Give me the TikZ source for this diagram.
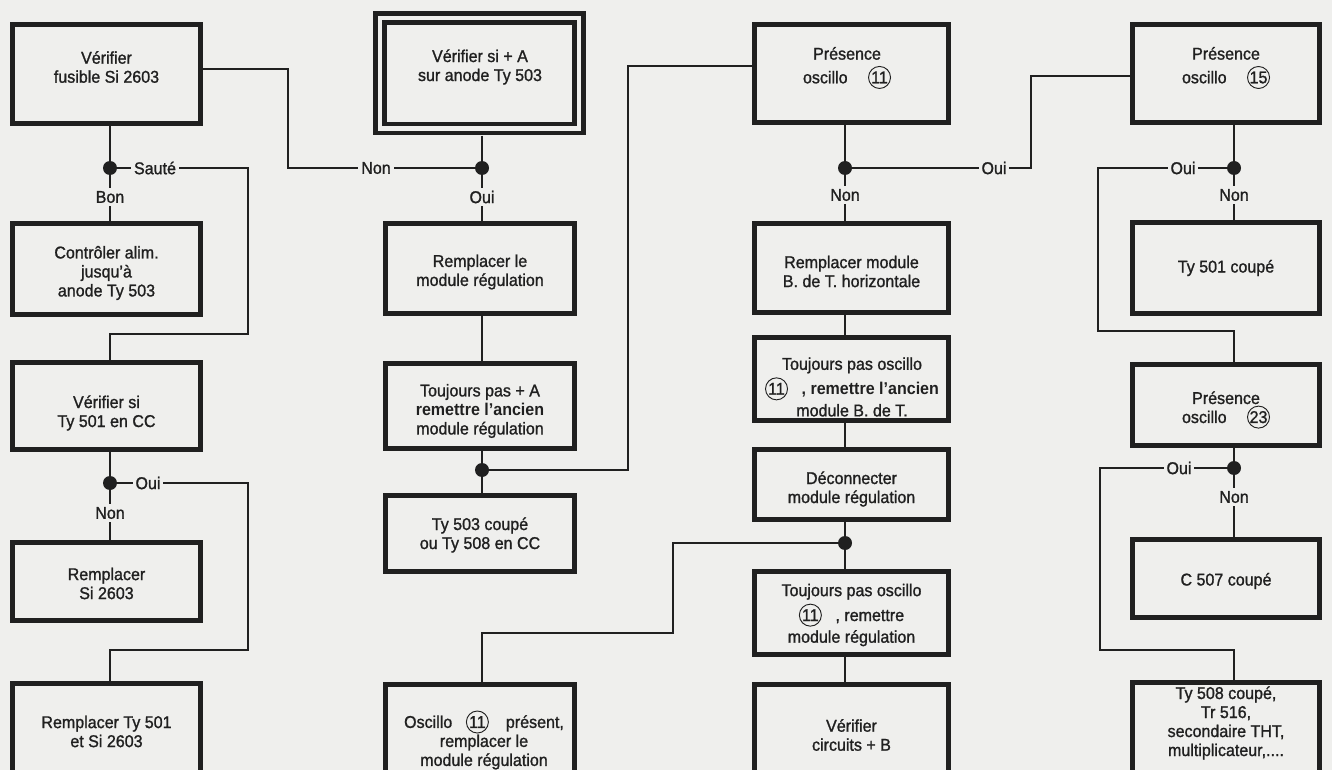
\documentclass[tikz,border=0pt]{standalone}
\usepackage{fontspec}
\setmainfont{Liberation Sans}[FakeStretch=0.94, UprightFeatures={FakeBold=1.2}]
\definecolor{bg}{RGB}{239,239,237}
\definecolor{ink}{RGB}{32,32,32}
\tikzset{
  x=0.75pt, y=-0.75pt,
  box/.style={draw=ink, line width=3.4pt, inner sep=0pt},
  dbox/.style={draw=ink, line width=3.1pt, double=bg, double distance=3.6pt, inner sep=0pt},
  txt/.style={text=ink, align=center, font=\fontsize{12.8}{14.25}\selectfont, inner sep=0pt},
  lab/.style={text=ink, fill=bg, font=\fontsize{12.8}{14.25}\selectfont, inner sep=2.2pt},
  wire/.style={draw=ink, line width=1.5pt},
  dot/.style={circle, fill=ink, inner sep=0pt, minimum size=10.5pt},
}
\newcommand\bx[5]{\node[box, minimum width={(#4-#2-4.5)*0.75pt}, minimum height={(#5-#3-4.5)*0.75pt}] (#1) at ({(#2+#4)/2},{(#3+#5)/2}) {};}
\newcommand\tx[4]{\node[txt] (#1) at (#2,#3) {#4};}
\newcommand\cnum[1]{\tikz[baseline=(cn.base)]\node[draw=ink,circle,line width=0.7pt,inner sep=0pt,minimum size=16.5pt](cn){#1};}
\begin{document}
\begin{tikzpicture}
\useasboundingbox (0,0) rectangle (1332,770);
\fill[bg] (0,0) rectangle (1332,770);
\clip (0,0) rectangle (1332,770);
% column 1
\bx{a1}{10}{22}{203}{126}
\bx{a2}{10}{221}{203}{317}
\bx{a3}{10}{360}{203}{452}
\bx{a4}{10}{540}{203}{623}
\bx{a5}{10}{681}{203}{790}
% column 2
\node[dbox, minimum width=149.25pt, minimum height=82.9pt] (b1) at (479.5,73.25) {};
\bx{b2}{383}{221}{577}{316}
\bx{b3}{383}{361}{577}{451}
\bx{b4}{383}{493}{577}{574}
\bx{b5}{383}{682}{577}{795}
% column 3
\bx{c1}{752}{22}{951}{125}
\bx{c2}{752}{221}{951}{315}
\bx{c3}{752}{335}{951}{423}
\bx{c4}{752}{447}{951}{522}
\bx{c5}{752}{569}{951}{657}
\bx{c6}{752}{682}{951}{790}
% column 4
\bx{d1}{1130}{22}{1322}{125}
\bx{d2}{1130}{220}{1322}{316}
\bx{d3}{1130}{362}{1322}{448}
\bx{d4}{1130}{537}{1322}{620}
\bx{d5}{1130}{680}{1322}{790}
% texts
\tx{ta1}{106.5}{67}{Vérifier\\fusible Si 2603}
\tx{ta2}{106.5}{273}{Contrôler alim.\\jusqu’à\\anode Ty 503}
\tx{ta3}{106.5}{413}{Vérifier si\\Ty 501 en CC}
\tx{ta4}{106.5}{583.5}{Remplacer\\Si 2603}
\tx{ta5}{106.5}{731.5}{Remplacer Ty 501\\et Si 2603}
\tx{tb1}{480}{67}{Vérifier si + A\\sur anode Ty 503}
\tx{tb2}{480}{272}{Remplacer le\\module régulation}
\tx{tb3}{480}{411}{Toujours pas + A\\\textbf{remettre l’ancien}\\module régulation}
\tx{tb4}{480}{535}{Ty 503 coupé\\ou Ty 508 en CC}
\tx{tb5}{484}{740}{Oscillo\hspace{0.8em}\cnum{11}\hspace{1em}présent,\\remplacer le\\module régulation}
\tx{tc1}{847}{68}{Présence\\[3.5pt]oscillo\hspace{1.2em}\cnum{11}}
\tx{tc2}{851.5}{271.5}{Remplacer module\\B. de T. horizontale}
\tx{tc3}{852}{387}{Toujours pas oscillo\\[2pt]\cnum{11}\hspace{0.8em}\textbf{, remettre l’ancien}\\[2pt]module B. de T.}
\tx{tc4}{851.5}{489}{Déconnecter\\module régulation}
\tx{tc5}{851.5}{615}{Toujours pas oscillo\\[2pt]\cnum{11}\hspace{0.8em}, remettre\\[2pt]module régulation}
\tx{tc6}{851.5}{735}{Vérifier\\circuits + B}
\tx{td1}{1226}{68}{Présence\\[3.5pt]oscillo\hspace{1.2em}\cnum{15}}
\tx{td2}{1226}{268}{Ty 501 coupé}
\tx{td3}{1226}{410}{Présence\\oscillo\hspace{1.2em}\cnum{23}}
\tx{td4}{1226}{581}{C 507 coupé}
\tx{td5}{1226}{723}{Ty 508 coupé,\\Tr 516,\\secondaire THT,\\multiplicateur,....}
% junction dots
\node[dot] (j1) at (110,168) {};
\node[dot] (j2) at (110,483) {};
\node[dot] (j3) at (482,168) {};
\node[dot] (j4) at (482,470) {};
\node[dot] (j5) at (845,168) {};
\node[dot] (j6) at (845,543) {};
\node[dot] (j7) at (1234,168) {};
\node[dot] (j8) at (1234,468) {};
% bend points
\coordinate (k1) at (248,334);
\coordinate (k2) at (248,650);
\coordinate (k3) at (288,168);
\coordinate (k4) at (628,66);
\coordinate (k5) at (673,633);
\coordinate (k6) at (1031,168);
\coordinate (k7) at (1098,331);
\coordinate (k8) at (1100,650);
% wires
\draw[wire] (j1 |- a1.south) -- (j1) -- (j1 |- a2.north);
\draw[wire] (j1) -| (k1) -| (j1 |- a3.north);
\draw[wire] (j2 |- a3.south) -- (j2) -- (j2 |- a4.north);
\draw[wire] (j2) -| (k2) -| (j2 |- a5.north);
\draw[wire] ([yshift=3.75pt]a1.east) -| (k3) -- (j3);
\draw[wire] ([yshift=-3.8pt]j3 |- b1.south) -- (j3) -- (j3 |- b2.north);
\draw[wire] (j3 |- b2.south) -- (j3 |- b3.north);
\draw[wire] (j4 |- b3.south) -- (j4) -- (j4 |- b4.north);
\draw[wire] (j4) -- (j4 -| k4) -- (k4) -- (c1.west |- k4);
\draw[wire] (j4 |- b5.north) |- (k5) |- (j6);
\draw[wire] (j5 |- c1.south) -- (j5) -- (j5 |- c2.north);
\draw[wire] (j5 |- c2.south) -- (j5 |- c3.north);
\draw[wire] (j5 |- c3.south) -- (j5 |- c4.north);
\draw[wire] (j6 |- c4.south) -- (j6) -- (j6 |- c5.north);
\draw[wire] (j6 |- c5.south) -- (j6 |- c6.north);
\draw[wire] (j5) -- (k6) |- ([yshift=-2pt]d1.west);
\draw[wire] (j7 |- d1.south) -- (j7) -- (j7 |- d2.north);
\draw[wire] (j7) -| (k7) -| (j7 |- d3.north);
\draw[wire] (j8 |- d3.south) -- (j8) -- (j8 |- d4.north);
\draw[wire] (j8) -| (k8) -| (j8 |- d5.north);
% labels on wires
\node[lab] (l1) at (155,168) {Sauté};
\node[lab] (l2) at (110,197) {Bon};
\node[lab] (l3) at (148,483) {Oui};
\node[lab] (l4) at (110,513) {Non};
\node[lab] (l5) at (376,168) {Non};
\node[lab] (l6) at (482,197) {Oui};
\node[lab] (l7) at (845,195) {Non};
\node[lab] (l8) at (994,168) {Oui};
\node[lab] (l9) at (1183,168) {Oui};
\node[lab] (l10) at (1234,195) {Non};
\node[lab] (l11) at (1179,468) {Oui};
\node[lab] (l12) at (1234,497) {Non};
\end{tikzpicture}
\end{document}
